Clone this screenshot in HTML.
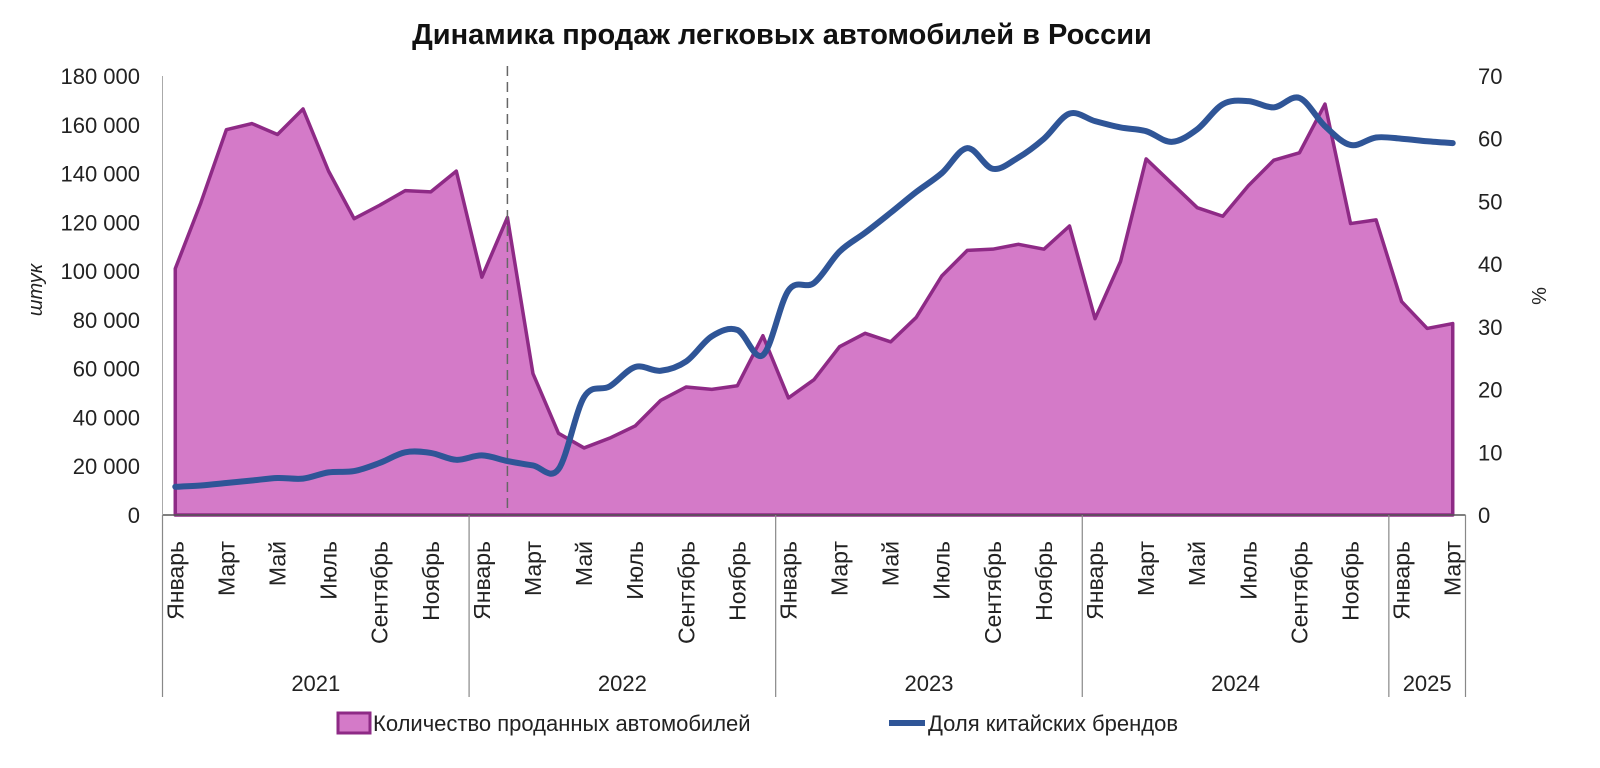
<!DOCTYPE html>
<html><head><meta charset="utf-8">
<style>
html,body{margin:0;padding:0;background:#fff;}
svg{display:block;font-family:"Liberation Sans","DejaVu Sans",sans-serif;}
</style></head>
<body>
<svg id="chart" width="1600" height="768" viewBox="0 0 1600 768">
<text x="782" y="44" text-anchor="middle" font-size="29" font-weight="bold" fill="#111">Динамика продаж легковых автомобилей в России</text>
<g id="g"></g>
</svg>
<script>
const years = ["2021","2022","2023","2024","2025"];
const yearCounts = [12,12,12,12,3];
const monthNames = ["Январь","Февраль","Март","Апрель","Май","Июнь","Июль","Август","Сентябрь","Октябрь","Ноябрь","Декабрь"];
const sales = [101000,128000,158000,160500,156000,166500,141000,121500,127000,133000,132500,141000,
 97500,122000,58000,33500,27500,31500,36500,47000,52500,51500,53000,73500,
 48000,55500,69000,74500,71000,81000,98000,108500,109000,111000,109000,118500,
 80500,104000,146000,136000,126000,122500,135000,145500,148500,168500,119500,121000,
 87500,76500,78500];
const share = [4.5,4.7,5.1,5.5,5.9,5.8,6.8,7.0,8.3,10.0,9.9,8.8,
 9.5,8.6,7.9,7.3,18.8,20.5,23.6,23.0,24.5,28.5,29.5,25.5,
 35.8,37.0,42.0,45.0,48.2,51.5,54.5,58.5,55.2,57.0,60.0,64.0,
 62.8,61.8,61.2,59.5,61.5,65.5,66.0,65.0,66.5,62.0,59.0,60.2,
 60.0,59.6,59.3];
const leftTicks = [0,20000,40000,60000,80000,100000,120000,140000,160000,180000];
const rightTicks = [0,10,20,30,40,50,60,70];

const NS="http://www.w3.org/2000/svg";
const g=document.getElementById('g');
const L=162.5,R=1465.5,T=76,B=515;
const N=sales.length, bw=(R-L)/N;
const x=i=>L+bw*(i+0.5);
const yl=v=>B-(v/180000)*(B-T);
const yr=v=>B-(v/70)*(B-T);
function el(tag,attrs,parent){const e=document.createElementNS(NS,tag);for(const k in attrs)e.setAttribute(k,attrs[k]);(parent||g).appendChild(e);return e;}
const fmt=v=>v===0?"0":String(v).replace(/\B(?=(\d{3})+(?!\d))/g," ");

let d=`M${x(0)},${B} `+sales.map((v,i)=>`L${x(i)},${yl(v)}`).join(' ')+` L${x(N-1)},${B} Z`;
let a=el('path',{d:d,fill:'#d47ac8',stroke:'#8e2a86','stroke-width':3.5,'stroke-linejoin':'round'});



let dl=el('line',{x1:x(13),x2:x(13),y1:66,y2:B,stroke:'#666','stroke-width':1.5,'stroke-dasharray':'10,6'});



const pts=share.map((v,i)=>[x(i),yr(v)]);
let sd=`M${pts[0][0]},${pts[0][1]}`;
for(let i=0;i<pts.length-1;i++){const p0=pts[Math.max(0,i-1)],p1=pts[i],p2=pts[i+1],p3=pts[Math.min(pts.length-1,i+2)];
 const c1=[p1[0]+(p2[0]-p0[0])/6,p1[1]+(p2[1]-p0[1])/6],c2=[p2[0]-(p3[0]-p1[0])/6,p2[1]-(p3[1]-p1[1])/6];
 sd+=` C${c1[0]},${c1[1]} ${c2[0]},${c2[1]} ${p2[0]},${p2[1]}`;}
let sl=el('path',{d:sd,fill:'none',stroke:'#2f5597','stroke-width':6,'stroke-linecap':'round'});



let ax=el('line',{x1:L,x2:R,y1:B,y2:B,stroke:'#555','stroke-width':1.5});


leftTicks.forEach(v=>{let t=el('text',{x:140,y:yl(v)+8,'text-anchor':'end','font-size':22,fill:'#222'});t.textContent=fmt(v);
 
 });
rightTicks.forEach(v=>{let t=el('text',{x:1478,y:yr(v)+8,'font-size':22,fill:'#222'});t.textContent=v;
 
 });
let yt=el('text',{transform:'translate(42,290) rotate(-90)','text-anchor':'middle','font-size':20,'font-style':'italic',fill:'#222'});yt.textContent='штук';


let yt2=el('text',{transform:'translate(1546,296) rotate(-90)','text-anchor':'middle','font-size':20,fill:'#222'});yt2.textContent='%';



for(let i=0;i<N;i+=2){let t=el('text',{transform:`translate(${x(i)+8},541) rotate(-90)`,'text-anchor':'end','font-size':23,fill:'#222'});
 t.textContent=monthNames[i%12];
 
 }
let start=0;
el('line',{x1:L,x2:L,y1:B,y2:697,stroke:'#888','stroke-width':1.2});
yearCounts.forEach((c,k)=>{const xe=L+bw*(start+c);
 el('line',{x1:xe,x2:xe,y1:B,y2:697,stroke:'#888','stroke-width':1.2});
 let t=el('text',{x:(L+bw*start+xe)/2,y:691,'text-anchor':'middle','font-size':22,fill:'#222'});t.textContent=years[k];
 
 
 start+=c;});
el('line',{x1:L,x2:L,y1:T,y2:B,stroke:'#aaa','stroke-width':1});

let lb=el('rect',{x:338,y:713,width:32,height:20,fill:'#d47ac8',stroke:'#8e2a86','stroke-width':3});


let lt=el('text',{x:373,y:731,'font-size':22,fill:'#222'});lt.textContent='Количество проданных автомобилей';


let ll=el('line',{x1:889,x2:925,y1:723,y2:723,stroke:'#2f5597','stroke-width':6});


let lt2=el('text',{x:928,y:731,'font-size':22,fill:'#222'});lt2.textContent='Доля китайских брендов';


</script>
</body></html>
